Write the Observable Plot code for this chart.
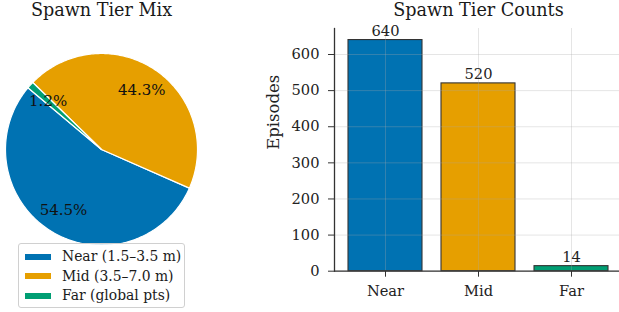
<!DOCTYPE html>
<html><head><meta charset="utf-8">
<script src="https://cdn.jsdelivr.net/npm/d3@7"></script>
<script src="https://cdn.jsdelivr.net/npm/@observablehq/plot@0.6"></script>
<style>
body{margin:0;background:#fff;font-family:"DejaVu Serif",serif;}
#fig{position:relative;width:619px;height:312px;overflow:hidden;background:#fff;}
.ttl{position:absolute;font-size:17.6px;color:#1a1a1a;white-space:nowrap;transform:translateX(-50%);line-height:1;}
#legend{position:absolute;left:18px;top:243px;width:165px;height:63px;border:1px solid #d0d0d0;border-radius:3px;background:rgba(255,255,255,0.85);font-size:13.9px;color:#1a1a1a;}
.sw{position:absolute;left:6px;width:26px;height:6px;}
.lt{position:absolute;left:43px;white-space:nowrap;line-height:1;}
svg{position:absolute;overflow:visible;}
</style></head><body><div id="fig"></div>
<script>
const tiers = ["Near", "Mid", "Far"];
const legendLabels = ["Near (1.5–3.5 m)", "Mid (3.5–7.0 m)", "Far (global pts)"];
const counts = [640, 520, 14];
const colors = ["#0072B2", "#E69F00", "#009E73"];
const yTicks = [0, 100, 200, 300, 400, 500, 600];
const pieTitle = "Spawn Tier Mix";
const barTitle = "Spawn Tier Counts";
const yLabel = "Episodes";
const startAngle = 140;

const fig = document.getElementById("fig");
const total = d3.sum(counts);
const color = {domain: tiers, range: colors};

// pie slices built from counts
const slicePts = [];
const pctLabels = [];
let a = startAngle;
tiers.forEach((t, i) => {
  const span = counts[i] / total * 360;
  const a0 = a, a1 = a + span;
  slicePts.push({tier: t, x: 0, y: 0});
  const n = Math.max(2, Math.ceil(span));
  for (let k = 0; k <= n; k++) {
    const th = (a0 + (a1 - a0) * k / n) * Math.PI / 180;
    slicePts.push({tier: t, x: Math.cos(th), y: Math.sin(th)});
  }
  const mid = (a0 + a1) / 2 * Math.PI / 180;
  pctLabels.push({tier: t, x: 0.75 * Math.cos(mid), y: 0.75 * Math.sin(mid), text: (counts[i] / total * 100).toFixed(1) + "%"});
  a = a1;
});

const R = 96;
const pie = Plot.plot({
  width: 210, height: 250, margin: 0,
  x: {domain: [-101 / R, 109 / R], axis: null},
  y: {domain: [-101 / R, 149 / R], axis: null},
  color,
  style: {fontFamily: "DejaVu Serif", background: "transparent", overflow: "visible"},
  marks: [
    Plot.line(slicePts, {x: "x", y: "y", z: "tier", fill: "tier", stroke: "white", strokeWidth: 1.2, curve: "linear-closed"}),
    Plot.text(pctLabels, {x: "x", y: "y", text: "text", fontSize: 15, fill: "#111"})
  ]
});
pie.style.left = "0px"; pie.style.top = "0px";
fig.appendChild(pie);

const barData = tiers.map((t, i) => ({tier: t, count: counts[i]}));
const bar = Plot.plot({
  width: 393, height: 312,
  marginLeft: 104, marginRight: 0, marginTop: 28, marginBottom: 41.3,
  x: {domain: tiers, paddingInner: 0.2, paddingOuter: 0.14},
  y: {domain: [0, 672]},
  color,
  style: {fontFamily: "DejaVu Serif", background: "transparent", overflow: "visible", color: "#222"},
  marks: [
    Plot.barY(barData, {x: "tier", y: "count", fill: "tier", stroke: "#333", strokeWidth: 1.1}),
    Plot.gridY(yTicks, {stroke: "#aaa", strokeOpacity: 0.3}),
    Plot.gridX(tiers, {stroke: "#aaa", strokeOpacity: 0.3}),
    Plot.text(barData, {x: "tier", y: "count", text: d => String(d.count), lineAnchor: "bottom", dy: -4, fontSize: 14.67, fill: "#222"}),
    Plot.axisY(yTicks, {tickSize: 6, tickPadding: 9, fontSize: 14.67, label: null, stroke: "#333"}),
    Plot.axisX({tickSize: 6, tickPadding: 8, fontSize: 14.67, label: null, stroke: "#333"}),
    Plot.ruleY([0], {stroke: "#333", strokeWidth: 1.3}),
    Plot.frame({anchor: "left", stroke: "#333", strokeWidth: 1.3}),
    Plot.text([yLabel], {frameAnchor: "left", rotate: -90, dx: -61, fontSize: 16.5, fill: "#222"})
  ]
});
bar.style.left = "230px"; bar.style.top = "0px";
fig.appendChild(bar);

function title(txt, cx, top) {
  const d = document.createElement("div");
  d.className = "ttl"; d.textContent = txt;
  d.style.left = cx + "px"; d.style.top = top + "px";
  fig.appendChild(d);
}
title(pieTitle, 101.5, 2);
title(barTitle, 478.5, 2);

const lg = document.createElement("div");
lg.id = "legend";
const rowCenters = [12.5, 32, 51.5];
legendLabels.forEach((lab, i) => {
  const sw = document.createElement("div"); sw.className = "sw"; sw.style.background = colors[i];
  sw.style.top = (rowCenters[i] - 3) + "px";
  const lt = document.createElement("div"); lt.className = "lt"; lt.textContent = lab;
  lt.style.top = (rowCenters[i] - 6.5) + "px";
  lg.appendChild(sw); lg.appendChild(lt);
});
fig.appendChild(lg);
</script></body></html>
